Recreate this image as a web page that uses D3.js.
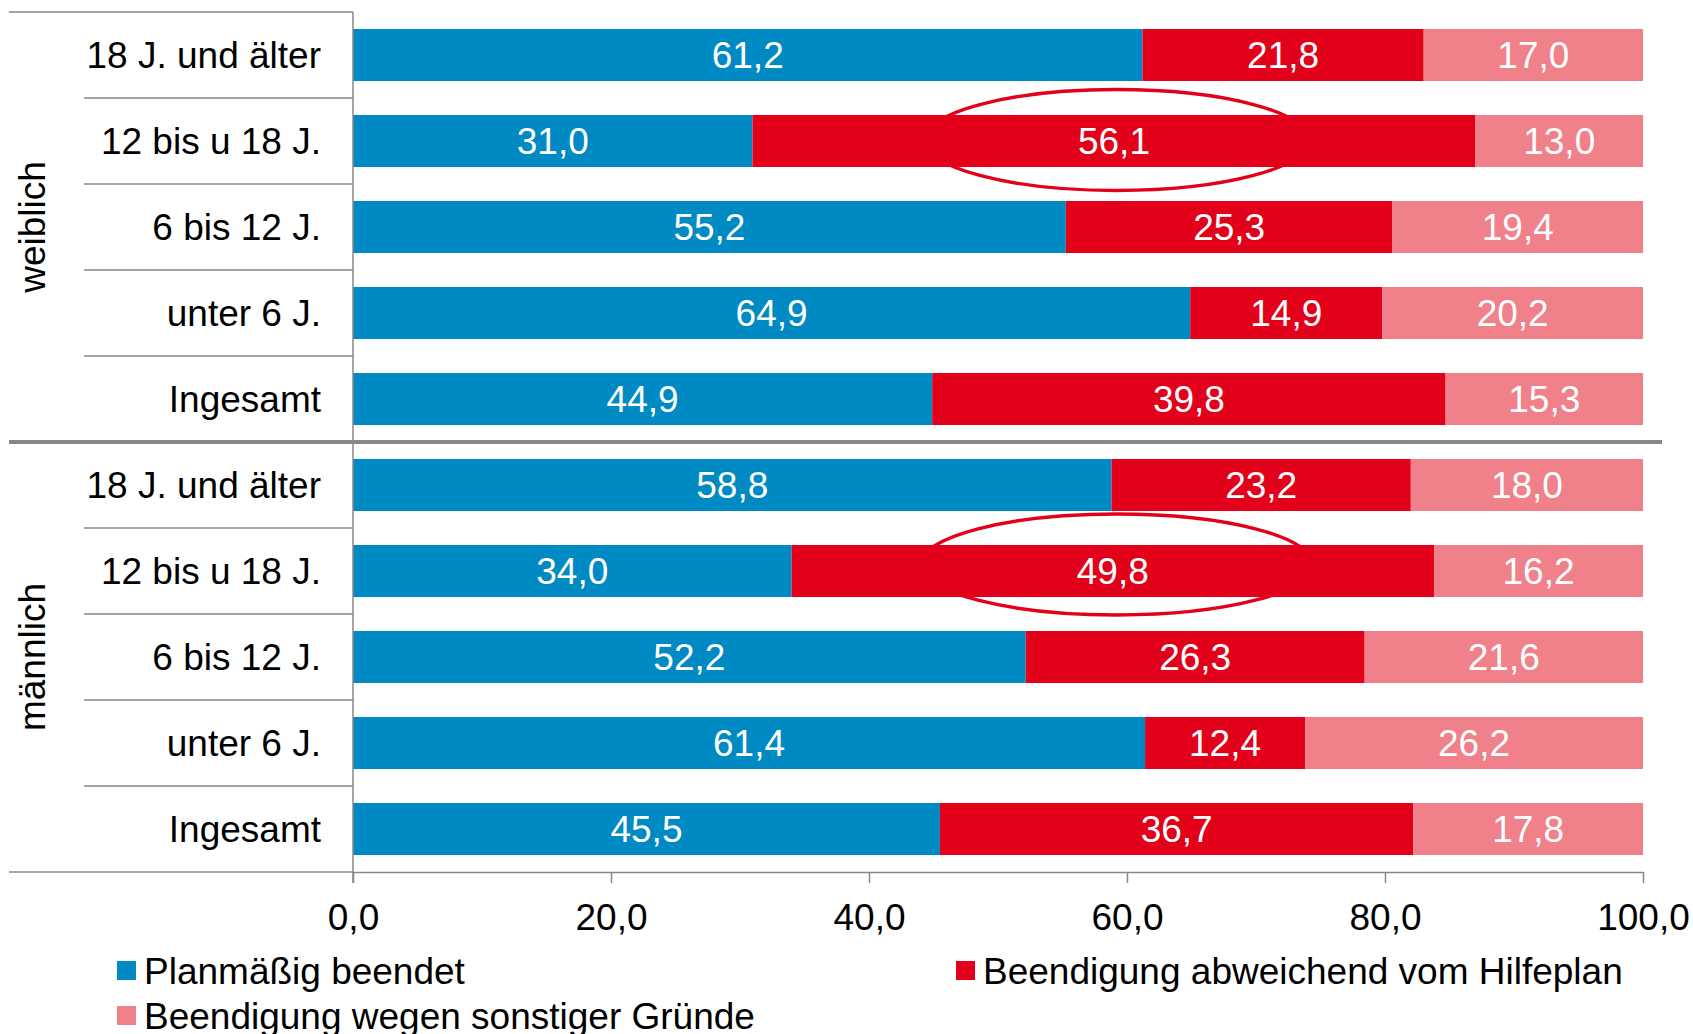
<!DOCTYPE html>
<html>
<head>
<meta charset="utf-8">
<script src="https://cdn.jsdelivr.net/npm/d3@7"></script>
<style>
    html, body { margin: 0; padding: 0; background: #fff; }
    svg { display: block; font-family: "Liberation Sans", Arial, sans-serif; }
</style>
</head>
<body>
<svg id="chart" width="1693" height="1034"></svg>
<script>
// Groups and age categories (top to bottom)
var groups = ["weiblich", "männlich"];
var ageCats = ["18 J. und älter", "12 bis u 18 J.", "6 bis 12 J.", "unter 6 J.", "Ingesamt"];

// Series values, rows: weiblich (5) then männlich (5)
var planmaessig = [61.2, 31.0, 55.2, 64.9, 44.9, 58.8, 34.0, 52.2, 61.4, 45.5];
var abweichend  = [21.8, 56.1, 25.3, 14.9, 39.8, 23.2, 49.8, 26.3, 12.4, 36.7];
var sonstige    = [17.0, 13.0, 19.4, 20.2, 15.3, 18.0, 16.2, 21.6, 26.2, 17.8];

var seriesNames = ["Planmäßig beendet", "Beendigung abweichend vom Hilfeplan", "Beendigung wegen sonstiger Gründe"];
var seriesColors = ["#008ac3", "#e2001a", "#f0808a"];

var tickValues = [0, 20, 40, 60, 80, 100];

// Highlighted rows (row index, ellipse centre and half width in axis units)
var highlights = [
    { row: 1, center: 59.2, half: 14.9, shift: -1 },
    { row: 6, center: 59.2, half: 15.2, shift: -6.5 }
];

window.addEventListener("load", function () {
    drawChart();
});

function drawChart() {
    var svg = d3.select("#chart");
    var lineColor = "#878787";
    var fontSize = "37px";

    var fmt = d3.formatLocale({ decimal: ",", thousands: ".", grouping: [3], currency: ["", ""] }).format(".1f");

    // Build rows
    var rows = [];
    groups.forEach(function (g, gi) {
        ageCats.forEach(function (c, ci) {
            var i = gi * ageCats.length + ci;
            rows.push({ key: g + "|" + c, group: g, cat: c, idx: i,
                s0: planmaessig[i], s1: abweichend[i], s2: sonstige[i] });
        });
    });

    var x = d3.scaleLinear().domain([0, 1]).range([353, 1643]);
    var xPct = d3.scaleLinear().domain([0, 100]).range([353, 1643]);
    var y = d3.scaleBand()
        .domain(rows.map(function (d) { return d.key; }))
        .range([12, 872])
        .paddingInner(0.395)
        .paddingOuter(0.1975);

    var stack = d3.stack().keys(["s0", "s1", "s2"]).offset(d3.stackOffsetExpand);
    var series = stack(rows);

    // Bars
    var layers = svg.append("g").selectAll("g")
        .data(series)
        .enter().append("g")
        .attr("fill", function (d, i) { return seriesColors[i]; });

    layers.selectAll("rect")
        .data(function (d) { return d; })
        .enter().append("rect")
        .attr("x", function (d) { return x(d[0]); })
        .attr("y", function (d) { return y(d.data.key); })
        .attr("width", function (d) { return x(d[1]) - x(d[0]); })
        .attr("height", y.bandwidth());

    // Value labels
    series.forEach(function (s) {
        svg.append("g").selectAll("text")
            .data(s)
            .enter().append("text")
            .attr("x", function (d) { return (x(d[0]) + x(d[1])) / 2; })
            .attr("y", function (d) { return y(d.data.key) + y.bandwidth() / 2; })
            .attr("dy", "0.36em")
            .attr("text-anchor", "middle")
            .attr("fill", "#fff")
            .style("font-size", fontSize)
            .text(function (d) { return fmt(d.data[s.key]); });
    });

    // Ellipses
    svg.append("g").selectAll("ellipse")
        .data(highlights)
        .enter().append("ellipse")
        .attr("cx", function (d) { return xPct(d.center); })
        .attr("cy", function (d) { return y(rows[d.row].key) + y.bandwidth() / 2 + d.shift; })
        .attr("rx", function (d) { return xPct(d.center + d.half) - xPct(d.center); })
        .attr("ry", 50.5)
        .attr("fill", "none")
        .attr("stroke", "#e2001a")
        .attr("stroke-width", 3.4);

    // Category labels
    svg.append("g").selectAll("text")
        .data(rows)
        .enter().append("text")
        .attr("x", 321)
        .attr("y", function (d) { return y(d.key) + y.bandwidth() / 2; })
        .attr("dy", "0.36em")
        .attr("text-anchor", "end")
        .attr("fill", "#000")
        .style("font-size", fontSize)
        .text(function (d) { return d.cat; });

    // Group labels
    var step = y.step();
    groups.forEach(function (g, gi) {
        var first = rows[gi * ageCats.length].key;
        var cy = y(first) - step * y.paddingInner() / 2 + step * ageCats.length / 2;
        svg.append("text")
            .attr("transform", "translate(45," + cy + ") rotate(-90)")
            .attr("text-anchor", "middle")
            .attr("fill", "#000")
            .style("font-size", fontSize)
            .text(g);
    });

    // Grid lines on category side
    var lines = svg.append("g").attr("stroke", lineColor).attr("fill", "none");
    var top = y.range()[0], bottom = y.range()[1];
    lines.append("line").attr("x1", 9).attr("x2", x(0)).attr("y1", top).attr("y2", top).attr("stroke-width", 1.5);
    rows.forEach(function (d, i) {
        var yy = y(d.key) + y.bandwidth() / 2 + step / 2;
        if ((i + 1) % ageCats.length === 0) return;
        lines.append("line").attr("x1", 84).attr("x2", x(0)).attr("y1", yy).attr("y2", yy).attr("stroke-width", 1.5);
    });
    // Group separator
    var sepY = y(rows[ageCats.length - 1].key) + y.bandwidth() / 2 + step / 2;
    lines.append("line").attr("x1", 9).attr("x2", 1662).attr("y1", sepY).attr("y2", sepY).attr("stroke-width", 4);
    // Bottom left extension
    lines.append("line").attr("x1", 9).attr("x2", x(0)).attr("y1", bottom).attr("y2", bottom).attr("stroke-width", 1.5);
    // Vertical axis
    lines.append("line").attr("x1", x(0)).attr("x2", x(0)).attr("y1", top).attr("y2", bottom + 11).attr("stroke-width", 1.5);

    // X axis
    var xAxis = svg.append("g")
        .attr("transform", "translate(0," + bottom + ")")
        .call(d3.axisBottom(xPct).tickValues(tickValues).tickSize(11).tickSizeOuter(0).tickPadding(21)
            .tickFormat(function (d) { return fmt(d); }));
    xAxis.select(".domain").attr("stroke", lineColor).attr("stroke-width", 1.5);
    xAxis.selectAll(".tick line").attr("stroke", lineColor).attr("stroke-width", 1.5);
    xAxis.selectAll(".tick text")
        .attr("fill", "#000")
        .style("font-size", fontSize)
        .style("font-family", "'Liberation Sans', Arial, sans-serif");

    // Legend
    var legendPos = [[117, 961], [956, 961], [117, 1006]];
    var legend = svg.append("g").selectAll("g")
        .data(seriesNames)
        .enter().append("g")
        .attr("transform", function (d, i) { return "translate(" + legendPos[i][0] + "," + legendPos[i][1] + ")"; });
    legend.append("rect")
        .attr("width", 19).attr("height", 19)
        .attr("fill", function (d, i) { return seriesColors[i]; });
    legend.append("text")
        .attr("x", 27).attr("y", 9.5).attr("dy", "0.36em")
        .attr("fill", "#000")
        .style("font-size", fontSize)
        .text(function (d) { return d; });
}
</script>
</body>
</html>
